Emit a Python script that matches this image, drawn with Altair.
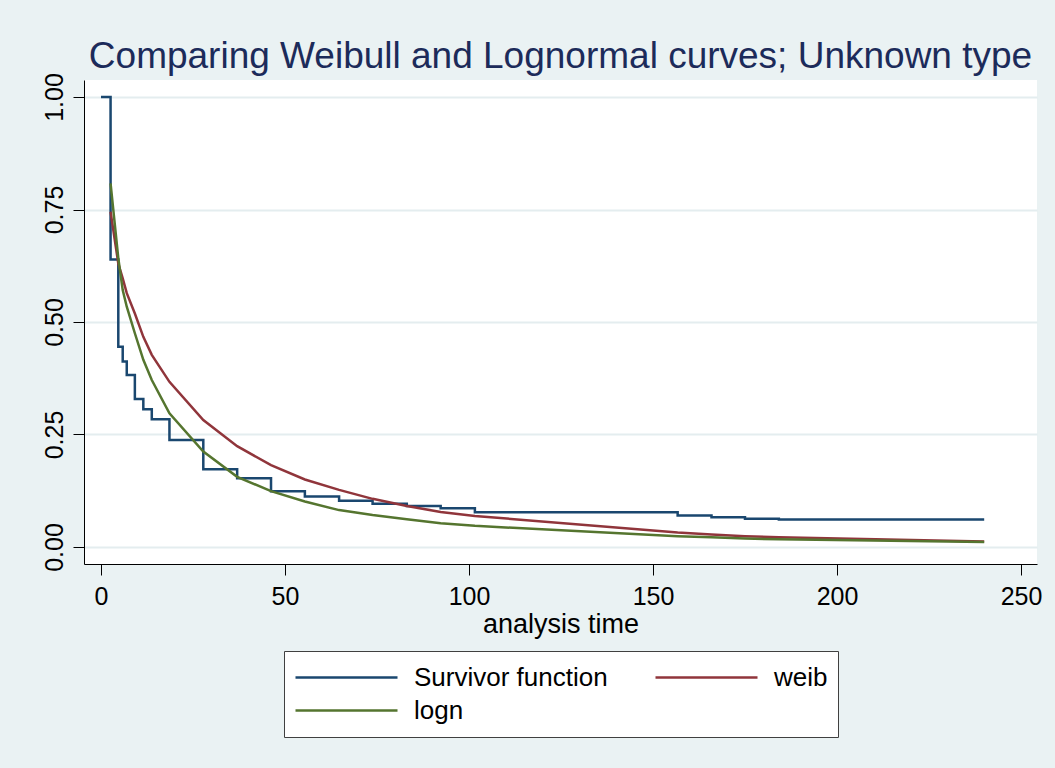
import altair as alt
import pandas as pd

# ---- data ----
series_names = ["Survivor function", "weib", "logn"]
series_colors = ["#1A476F", "#90353B", "#55752F"]

km_time = [0, 2.6, 4.7, 5.9, 7.0, 9.2, 11.5, 13.8, 18.6, 27.8, 37.0, 46.2, 55.4,
           64.7, 73.8, 83.1, 92.3, 101.6, 156.7, 165.9, 175.0, 184.2, 240]
km_surv = [1.0, 0.639, 0.445, 0.412, 0.382, 0.329, 0.306, 0.284, 0.238, 0.173, 0.153,
           0.124, 0.112, 0.103, 0.096, 0.091, 0.086, 0.077, 0.070, 0.066, 0.063, 0.061, 0.061]

fit_time = [2.6, 4.7, 5.9, 7.0, 9.2, 11.5, 13.8, 18.6, 27.8, 37.0, 46.2, 55.4,
            64.7, 73.8, 83.1, 92.3, 101.6, 156.7, 165.9, 175.0, 184.2, 240]
weib_surv = [0.745, 0.630, 0.597, 0.564, 0.519, 0.467, 0.427, 0.367, 0.282, 0.224, 0.182,
             0.150, 0.127, 0.107, 0.091, 0.078, 0.069, 0.032, 0.028, 0.024, 0.0215, 0.012]
logn_surv = [0.808, 0.642, 0.571, 0.534, 0.475, 0.416, 0.371, 0.297, 0.212, 0.156, 0.124,
             0.101, 0.082, 0.071, 0.0615, 0.053, 0.047, 0.024, 0.0215, 0.019, 0.017, 0.011]

x_ticks = [0, 50, 100, 150, 200, 250]
y_ticks = [0, 0.25, 0.5, 0.75, 1.0]

title_text = "Comparing Weibull and Lognormal curves; Unknown type"
x_title = "analysis time"

# ---- tables ----
km_df = pd.DataFrame({"t": km_time, "s": km_surv, "series": series_names[0]})
fit_df = pd.concat([
    pd.DataFrame({"t": fit_time, "s": weib_surv, "series": series_names[1]}),
    pd.DataFrame({"t": fit_time, "s": logn_surv, "series": series_names[2]}),
], ignore_index=True)

FONT = "Liberation Sans"

x_scale = alt.Scale(domain=[-4.62, 254.35], nice=False, zero=False)
y_scale = alt.Scale(domain=[-0.0378, 1.0378], nice=False, zero=False)
color_scale = alt.Scale(domain=series_names, range=series_colors)

x_axis = alt.Axis(title=x_title, values=x_ticks, grid=False, format="d",
                  labelFontSize=25, titleFontSize=27, labelPadding=9, titlePadding=2,
                  tickSize=11)
y_axis = alt.Axis(title=None, values=y_ticks, format=".2f", grid=True,
                  labelAngle=-90, labelAlign="center", labelBaseline="bottom",
                  labelFontSize=25, labelPadding=6, tickSize=11)

legend = alt.Legend(
    title=None, orient="none", legendX=200, legendY=571,
    direction="horizontal", columns=2, columnPadding=46, rowPadding=0,
    clipHeight=33, padding=10, fillColor="white", strokeColor="#404040",
    symbolType="stroke", symbolSize=10404, symbolStrokeWidth=2.5,
    labelFontSize=26, labelFont=FONT, labelColor="black", labelOffset=15,
    labelLimit=400, labelBaseline="middle",
)

km_layer = alt.Chart(km_df).mark_line(interpolate="step-after", strokeWidth=2.5).encode(
    x=alt.X("t:Q", scale=x_scale, axis=x_axis),
    y=alt.Y("s:Q", scale=y_scale, axis=y_axis),
    color=alt.Color("series:N", scale=color_scale, legend=legend),
)

fit_layer = alt.Chart(fit_df).mark_line(strokeWidth=2.5).encode(
    x=alt.X("t:Q", scale=x_scale),
    y=alt.Y("s:Q", scale=y_scale),
    color=alt.Color("series:N", scale=color_scale, legend=legend),
    order=alt.Order("t:Q"),
)

chart = alt.layer(km_layer, fit_layer).properties(
    width=953, height=484,
    title=alt.Title(title_text, fontSize=37, font=FONT, color="#1C2B5A",
                    fontWeight="normal", anchor="middle", offset=13,
                    baseline="alphabetic", dy=45),
    autosize=alt.AutoSizeParams(type="none"),
    padding={"left": 84, "top": 80, "right": 18, "bottom": 204},
    background="#EAF2F3",
).configure_view(
    fill="white", stroke=None,
).configure_axis(
    labelFont=FONT, titleFont=FONT, labelColor="black", titleColor="black",
    titleFontWeight="normal",
    domainColor="black", domainWidth=1, tickColor="black", tickWidth=1,
    gridColor="#E4EDEF", gridWidth=2,
)

chart.save("out.html", embed_options={"renderer": "svg", "actions": False})
